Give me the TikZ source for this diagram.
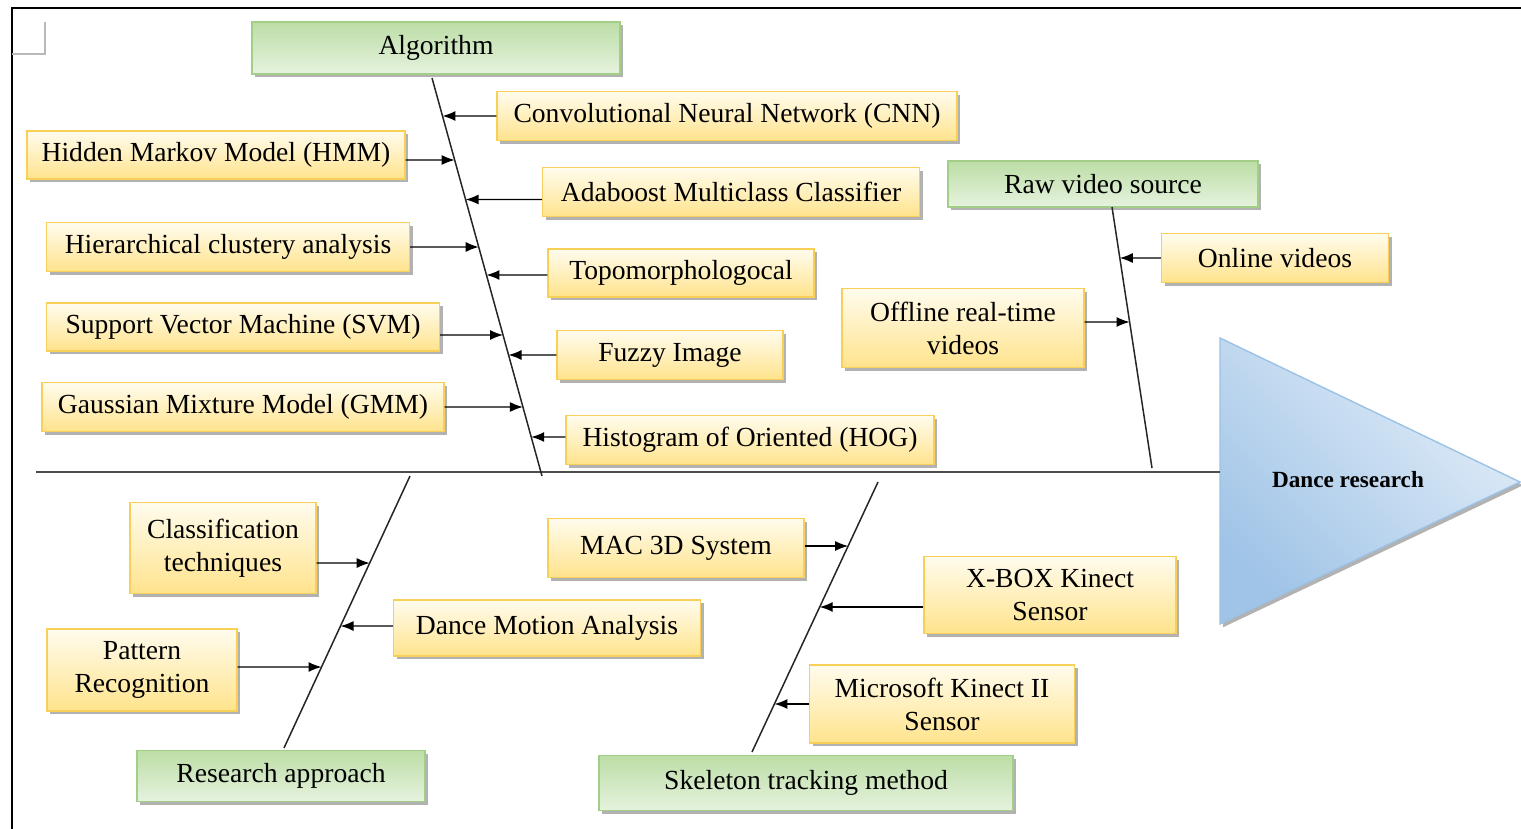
\documentclass[tikz,border=0pt]{standalone}
\usepackage{fontspec}
\setmainfont{Liberation Serif}
\usepackage{xcolor}
\usetikzlibrary{shadows,arrows.meta}

\definecolor{causeedge}{HTML}{F8CF57}
\definecolor{causetop}{HTML}{FFFCEE}
\definecolor{causebot}{HTML}{FFE38C}
\definecolor{catedge}{HTML}{A3CE87}
\definecolor{cattop}{HTML}{BCDEA6}
\definecolor{catbot}{HTML}{E6F2DE}
\definecolor{triedge}{HTML}{9CC2E5}
\definecolor{trilight}{HTML}{E2EDF8}
\definecolor{tridark}{HTML}{A0C4E7}

\tikzset{
  boxshadow/.style={drop shadow={shadow xshift=1.6pt,shadow yshift=-1.6pt,fill=black,opacity=0.3}},
  causebox/.style={draw=causeedge, line width=0.7pt, top color=causetop, bottom color=causebot,
    boxshadow, align=center, inner sep=2pt, font=\fontsize{13.8}{16.5}\selectfont},
  catbox/.style={draw=catedge, line width=0.7pt, top color=cattop, bottom color=catbot,
    boxshadow, align=center, inner sep=2pt, font=\fontsize{13.8}{16.5}\selectfont},
  bone/.style={black!85, line width=0.75pt},
  causearrow/.style={black, line width=0.65pt, -{Latex[length=6.5pt,width=5pt]}},
}

\begin{document}
\begin{tikzpicture}[x=0.5pt,y=-0.5pt]
		\useasboundingbox (0,0) rectangle (1521,829);
		\draw[line width=1.4pt] (12,829) -- (12,8) -- (1521,8);% frame
		\draw[gray!55, line width=0.8pt] (12,54) -- (45,54) -- (45,22);

		% head of the fish
		\coordinate (TriA) at (1220,338);
		\coordinate (TriB) at (1520,482);
		\coordinate (TriC) at (1220,624);
		\filldraw[draw=triedge, line width=0.7pt, top color=trilight, bottom color=tridark, shading angle=-45, boxshadow]
			(TriA) -- (TriB) -- (TriC) -- cycle;
		\node[font=\bfseries\fontsize{11.6}{13}\selectfont] (head) at (1348,480) {Dance research};

		% spine
		\coordinate (SpineL) at (36,472);
		\draw[gray!60!black, line width=1.3pt] (SpineL) -- (SpineL -| TriA);

		% categories
		\node[catbox, minimum width=184pt, minimum height=26pt] (alg) at (436,48) {Algorithm};
		\node[catbox, minimum width=155pt, minimum height=23pt] (raw) at (1103,184) {Raw video source};
		\node[catbox, minimum width=144pt, minimum height=25.5pt] (res) at (281,776) {Research approach};
		\node[catbox, minimum width=207pt, minimum height=27.5pt] (skel) at (806,783) {Skeleton tracking method};

		% causes
		\node[causebox, minimum width=230pt, minimum height=24.5pt] (cnn) at (727,116) {Convolutional Neural Network (CNN)};
		\node[causebox, minimum width=189pt, minimum height=24pt] (hmm) at (216,155) {Hidden Markov Model (HMM)};
		\node[causebox, minimum width=188.5pt, minimum height=24.5pt] (ada) at (731,192) {Adaboost Multiclass Classifier};
		\node[causebox, minimum width=181.5pt, minimum height=24.5pt] (hier) at (228,247) {Hierarchical clustery analysis};
		\node[causebox, minimum width=133pt, minimum height=24pt] (topo) at (681,273) {Topomorphologocal};
		\node[causebox, minimum width=196.5pt, minimum height=24pt] (svm) at (243,327) {Support Vector Machine (SVM)};
		\node[causebox, minimum width=113pt, minimum height=24.5pt] (fuzzy) at (670,355) {Fuzzy Image};
		\node[causebox, minimum width=201pt, minimum height=24.5pt] (gmm) at (243,407) {Gaussian Mixture Model (GMM)};
		\node[causebox, minimum width=184pt, minimum height=24.5pt] (hog) at (750,440) {Histogram of Oriented (HOG)};
		\node[causebox, minimum width=113.5pt, minimum height=24.5pt] (online) at (1275,258) {Online videos};
		\node[causebox, minimum width=121pt, minimum height=39.5pt] (offline) at (963,328) {Offline real-time\\videos};
		\node[causebox, minimum width=93pt, minimum height=45.5pt] (classif) at (223,548) {Classification\\techniques};
		\node[causebox, minimum width=153.5pt, minimum height=28pt] (dma) at (547,628) {Dance Motion Analysis};
		\node[causebox, minimum width=95pt, minimum height=41pt] (pattern) at (142,670) {Pattern\\Recognition};
		\node[causebox, minimum width=128pt, minimum height=29.5pt] (mac) at (676,548) {MAC 3D System};
		\node[causebox, minimum width=126pt, minimum height=38.5pt] (xbox) at (1050,595) {X-BOX Kinect\\Sensor};
		\node[causebox, minimum width=132.5pt, minimum height=39pt] (ms) at (942,704) {Microsoft Kinect II\\Sensor};

		% bones
		\coordinate (algA) at (432,78);   \coordinate (algB) at (542,476);
		\coordinate (rawA) at (1112,207); \coordinate (rawB) at (1152,468);
		\coordinate (resA) at (410,476);  \coordinate (resB) at (284,748);
		\coordinate (skelA) at (878,482); \coordinate (skelB) at (752,752);
		\foreach \k in {alg,raw,res,skel}{
			\draw[bone] (\k A) -- (\k B);
		}

		% arrows from each cause onto its bone
		\foreach \n/\s/\k/\d in {cnn/west/alg/0, hmm/east/alg/-2.5, ada/west/alg/-3.75,
			hier/east/alg/0, topo/west/alg/-1, svm/east/alg/-4, fuzzy/west/alg/0,
			gmm/east/alg/0, hog/west/alg/1.5, online/west/raw/0, offline/east/raw/3,
			classif/east/res/-7.5, dma/west/res/1, pattern/east/res/1.5,
			mac/east/skel/1, xbox/west/skel/-6, ms/west/skel/0}{
			\coordinate (p) at ([yshift=\d pt]\n.\s);
			\coordinate (q) at ([xshift=10pt]p);
			\draw[causearrow] (p) -- (intersection of p--q and \k A--\k B);
		}
	  \end{tikzpicture}
\end{document}
